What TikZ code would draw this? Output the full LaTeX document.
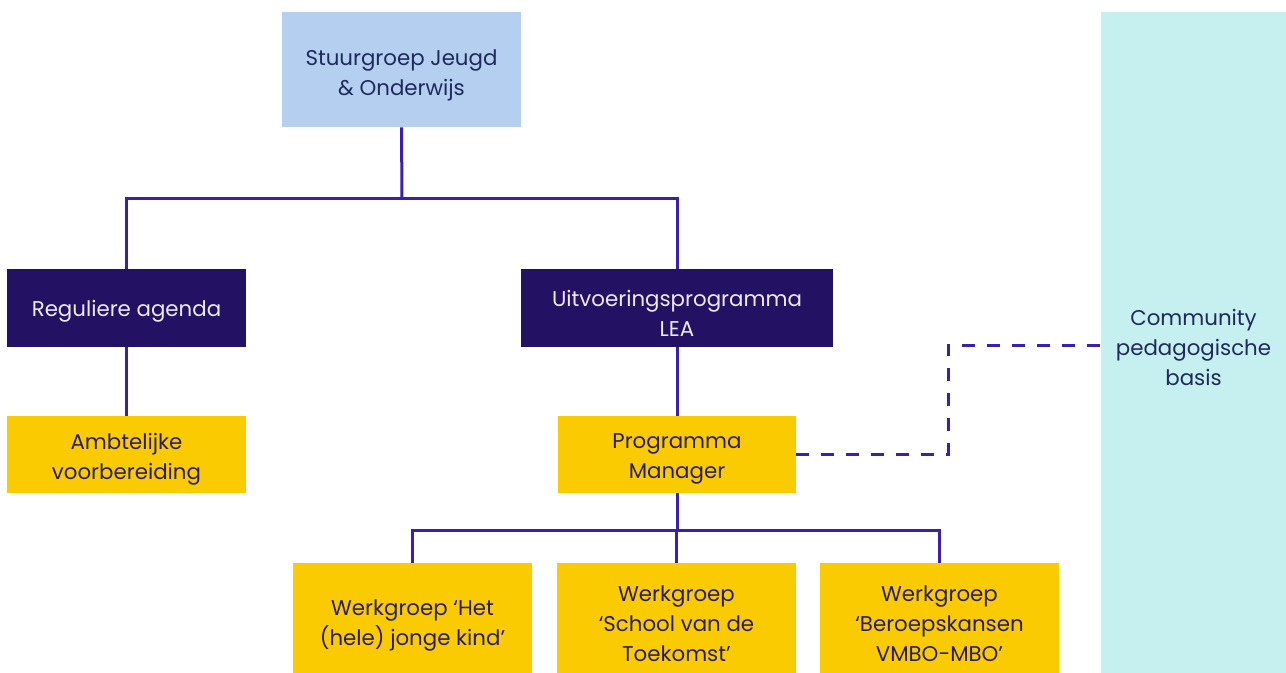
\documentclass[tikz,border=0pt]{standalone}
\usepackage{fontspec}
\setmainfont{Poppins}
\definecolor{lineC}{HTML}{3A20B0}
\definecolor{navyC}{HTML}{231163}
\definecolor{blueC}{HTML}{B4CFF0}
\definecolor{yelC}{HTML}{FACB00}
\definecolor{tealC}{HTML}{C5F0EF}
\definecolor{txtC}{HTML}{1F2A5C}
\definecolor{txtY}{HTML}{2A1E5A}
\definecolor{txtW}{HTML}{ECEAF6}
\begin{document}
\begin{tikzpicture}[x=0.75pt,y=-0.75pt,
  box/.style={inner sep=0pt},
  lbl/.style={inner sep=0pt,align=center,font=\fontsize{16}{22.5}\selectfont},
  bluebox/.style={box,fill=blueC},
  navybox/.style={box,fill=navyC},
  yelbox/.style={box,fill=yelC},
  tealbox/.style={box,fill=tealC},
  tb/.style={lbl,text=txtC},
  tw/.style={lbl,text=txtW},
  ty/.style={lbl,text=txtY},
  conn/.style={draw=lineC,line width=2.25pt},
  dconn/.style={conn,dash pattern=on 9.75pt off 9pt}]
\useasboundingbox[fill=white] (0,0) rectangle (1286,672);
\node[tealbox,minimum width=185*0.75pt,minimum height=670*0.75pt,
  label={[tb]center:{Community\\pedagogische\\basis}}] (comm) at (1193.5,347) {};
\node[bluebox,minimum width=239*0.75pt,minimum height=115*0.75pt,
  label={[tb,yshift=-4.1pt]center:{Stuurgroep Jeugd\\\& Onderwijs}}] (stuur) at (401.5,69.5) {};
\node[navybox,minimum width=239*0.75pt,minimum height=78*0.75pt,
  label={[tw,yshift=-2.25pt]center:{Reguliere agenda}}] (reg) at (126.5,308) {};
\node[navybox,minimum width=312*0.75pt,minimum height=78*0.75pt,
  label={[tw,yshift=-3.75pt]center:{Uitvoeringsprogramma\\LEA}}] (lea) at (677,308) {};
\node[yelbox,minimum width=239*0.75pt,minimum height=77*0.75pt,
  label={[ty,yshift=-3.4pt]center:{Ambtelijke\\voorbereiding}}] (amb) at (126.5,454.5) {};
\node[yelbox,minimum width=238*0.75pt,minimum height=77*0.75pt,
  label={[ty,yshift=-3.4pt]center:{Programma\\Manager}}] (prog) at (677,454.5) {};
\node[yelbox,minimum width=239*0.75pt,minimum height=118*0.75pt,
  label={[ty,yshift=-2.25pt]center:{Werkgroep ‘Het\\(hele) jonge kind’}}] (w1) at (412.5,622) {};
\node[yelbox,minimum width=239*0.75pt,minimum height=122*0.75pt,
  label={[ty]center:{Werkgroep\\‘School van de\\Toekomst’}}] (w2) at (676.5,624) {};
\node[yelbox,minimum width=239*0.75pt,minimum height=122*0.75pt,
  label={[ty]center:{Werkgroep\\‘Beroepskansen\\VMBO-MBO’}}] (w3) at (939.5,624) {};
\coordinate (j1) at (402,198);
\coordinate (j2) at (679,530);
\coordinate (d1) at (948,345);
\draw[conn] (stuur.south) -- (j1);
\draw[conn] (reg.north) |- (lea.north |- j1) -- (lea.north);
\draw[conn] (reg.south) -- (amb.north);
\draw[conn] (lea.south) -- (prog.north);
\draw[conn] (prog.south) -- (prog.south |- j2);
\draw[conn] (w1.north) |- (w3.north |- j2) -- (w3.north);
\draw[conn] (w2.north) -- (w2.north |- j2);
\draw[dconn] (prog.east) -| (d1) -- (comm.west |- d1);
\end{tikzpicture}
\end{document}
